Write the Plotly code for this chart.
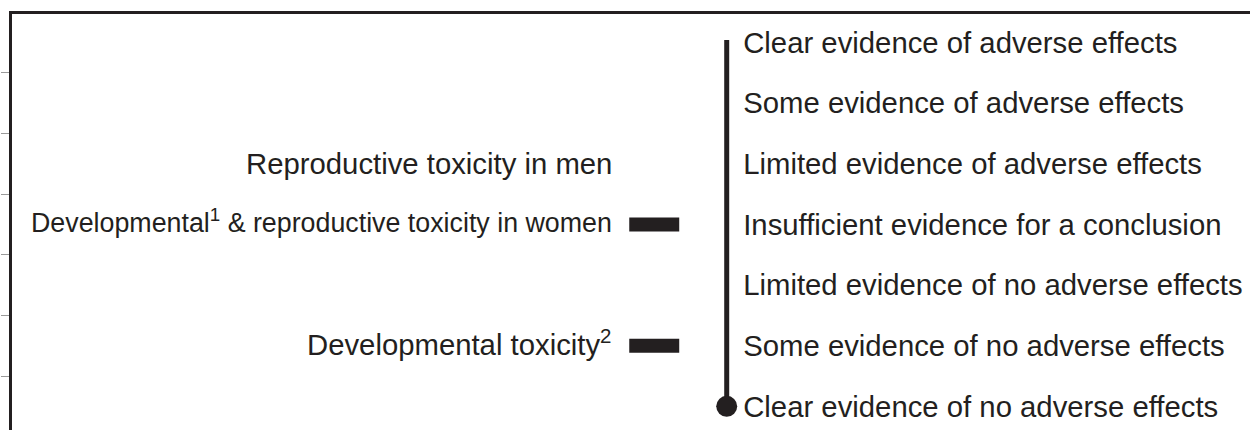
import plotly.graph_objects as go

# Evidence scale (index 0 = bottom, 6 = top)
evidence_levels = [
    "Clear evidence of no adverse effects",
    "Some evidence of no adverse effects",
    "Limited evidence of no adverse effects",
    "Insufficient evidence for a conclusion",
    "Limited evidence of adverse effects",
    "Some evidence of adverse effects",
    "Clear evidence of adverse effects",
]

# Outcomes and the evidence level each is placed at
outcomes = [
    "Reproductive toxicity in men",
    "Developmental<sup>1</sup> &amp; reproductive toxicity in women",
    "Developmental toxicity<sup>2</sup>",
]
outcome_levels = [4, 3, 1]
outcome_marked = [False, True, True]

INK = "#231f20"
FONT = "Liberation Sans, Arial, Helvetica, sans-serif"
FS = 29.3
LABEL_FS = [29.3, 26.8, 29.3]
LABEL_YSHIFT = [0, 3, 3]

W, H = 1250, 430
ML, MT = 11.5, 14
PW = W - ML
X0 = ML            # page x of plot left edge

BAR_START, BAR_LEN = 617.5, 50
SCALE_X = 715
LABEL_RIGHT = 602.5
Y_RANGE = [-0.39, 6.47]


def paper(px):
    return (px - X0) / PW


fig = go.Figure()

marked_levels = [lv for lv, m in zip(outcome_levels, outcome_marked) if m]
fig.add_trace(go.Bar(
    y=marked_levels,
    x=[BAR_LEN] * len(marked_levels),
    base=[BAR_START] * len(marked_levels),
    orientation="h",
    width=0.23,
    marker=dict(color=INK, line=dict(width=0)),
    hoverinfo="skip",
))

lv_idx = list(range(len(evidence_levels)))
fig.add_trace(go.Scatter(
    x=[SCALE_X, SCALE_X],
    y=[min(lv_idx), max(lv_idx) + 0.04],
    mode="lines",
    line=dict(color=INK, width=5),
    yaxis="y2",
    hoverinfo="skip",
))
fig.add_trace(go.Scatter(
    x=[SCALE_X],
    y=[min(lv_idx)],
    mode="markers",
    marker=dict(size=21, color=INK, opacity=1, line=dict(width=0)),
    yaxis="y2",
    hoverinfo="skip",
))

for txt, lv, fs, ys in zip(outcomes, outcome_levels, LABEL_FS, LABEL_YSHIFT):
    fig.add_annotation(
        x=LABEL_RIGHT, y=lv, xref="x", yref="y", yshift=ys,
        text=txt, showarrow=False, xanchor="right", yanchor="middle",
        font=dict(family=FONT, size=fs, color=INK),
    )

fig.update_layout(
    width=W, height=H,
    margin=dict(l=ML, r=0, t=MT, b=0, pad=0, autoexpand=False),
    plot_bgcolor="white", paper_bgcolor="white",
    showlegend=False,
    font=dict(family=FONT, size=FS, color=INK),
    xaxis=dict(
        range=[0, PW], side="top", showline=True, linewidth=3, linecolor=INK,
        showgrid=False, zeroline=False, showticklabels=False, ticks="",
        automargin=False, fixedrange=True,
    ),
    yaxis=dict(
        range=Y_RANGE, showline=True, linewidth=3, linecolor=INK,
        showgrid=False, zeroline=False, showticklabels=False,
        ticks="outside", ticklen=8, tickwidth=1, tickcolor="#9a9a9a",
        tickvals=[v + 0.5 for v in range(-1, len(evidence_levels))],
        automargin=False, fixedrange=True,
    ),
    yaxis2=dict(
        range=Y_RANGE, overlaying="y", anchor="free", position=paper(742), side="right",
        showline=False, showgrid=False, zeroline=False, ticks="",
        tickvals=lv_idx, ticktext=evidence_levels,
        tickfont=dict(family=FONT, size=FS, color=INK),
        automargin=False, fixedrange=True,
    ),
)

fig.write_html(
    "out.html",
    config={"displayModeBar": False},
    post_script="document.body.style.margin='0px';document.body.style.overflow='hidden';",
)
